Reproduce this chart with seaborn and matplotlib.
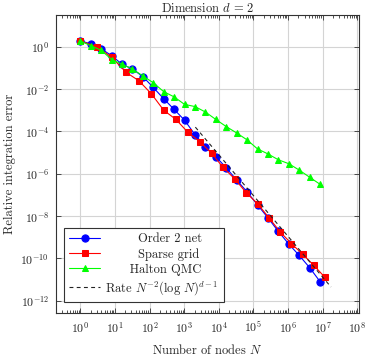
import numpy as np
import pandas as pd
import matplotlib
matplotlib.use("Agg")
import matplotlib.pyplot as plt
import matplotlib.ticker as mticker
import seaborn as sns

# data
net_nodes = [1, 2, 4, 8, 16, 32, 64, 128, 256, 512, 1024, 2048, 4096, 8192,
             16384, 32768, 65536, 131072, 262144, 524288, 1048576, 2097152,
             4194304, 8388608]
net_error = [1.9, 1.38, 0.81, 0.38, 0.15, 8.9e-2, 3.9e-2, 1.2e-2, 3.5e-3,
             1.1e-3, 3.4e-4, 7.1e-5, 1.9e-5, 6.5e-6, 1.9e-6, 5.1e-7, 1.4e-7,
             3.4e-8, 8.3e-9, 1.9e-9, 4.8e-10, 1.4e-10, 3.7e-11, 8.1e-12]

sparse_nodes = [1, 3, 8, 21, 49, 113, 257, 577, 1281, 2817, 6145, 13313,
                28673, 61441, 131073, 278529, 589825, 1245185, 2621441,
                5505025, 11534337]
sparse_error = [1.9, 1.0, 0.32, 6.2e-2, 2.5e-2, 6.0e-3, 1.0e-3, 3.7e-4,
                9.1e-5, 3.3e-5, 9.5e-6, 2.0e-6, 5.8e-7, 1.3e-7, 3.9e-8,
                8.5e-9, 1.8e-9, 5.1e-10, 1.6e-10, 4.8e-11, 1.3e-11]

halton_nodes = net_nodes
halton_error = [1.9, 1.12, 0.69, 0.25, 0.15, 8.9e-2, 4.2e-2, 2.0e-2, 7.6e-3,
                4.3e-3, 1.9e-3, 1.5e-3, 8.3e-4, 3.7e-4, 1.7e-4, 8.5e-5,
                4.0e-5, 1.5e-5, 8.7e-6, 4.6e-6, 3.0e-6, 1.5e-6, 6.9e-7, 3.2e-7]

rate_nodes = [2100, 1.74e7]
rate_error = [1.6e-4, 4.5e-12]

x_ticks = [1e0, 1e1, 1e2, 1e3, 1e4, 1e5, 1e6, 1e7, 1e8]
y_ticks = [1e-12, 1e-10, 1e-8, 1e-6, 1e-4, 1e-2, 1e0]

sns.set_style("ticks")
plt.rcParams["font.family"] = "serif"
plt.rcParams["font.serif"] = ["cmr10", "DejaVu Serif"]
plt.rcParams["mathtext.fontset"] = "cm"
plt.rcParams["axes.unicode_minus"] = False
plt.rcParams["axes.formatter.use_mathtext"] = True

fig = plt.figure(figsize=(3.74, 3.58), dpi=100)
ax = fig.add_axes([0.150, 0.126, 0.810, 0.832])

sns.lineplot(x=net_nodes, y=net_error, ax=ax, color="#0000ff", marker="o",
             markersize=5.2, markeredgecolor="#0000ff", linewidth=0.8,
             label="        Order 2 net")
sns.lineplot(x=sparse_nodes, y=sparse_error, ax=ax, color="#ff0000",
             marker="s", markersize=4.3, markeredgecolor="#ff0000",
             linewidth=0.8, label="        Sparse grid")
sns.lineplot(x=halton_nodes, y=halton_error, ax=ax, color="#00ff00",
             marker="^", markersize=4.8, markeredgecolor="#00ff00",
             linewidth=0.8, label="      Halton QMC")
sns.lineplot(x=rate_nodes, y=rate_error, ax=ax, color="#222222",
             linewidth=0.8, dashes=(3.5, 3), label=r"Rate $N^{-2}(\log\, N)^{d-1}$")

ax.set_xscale("log")
ax.set_yscale("log")
ax.set_xlim(10 ** -0.7, 10 ** 8.05)
ax.set_ylim(10 ** -12.57, 10 ** 1.5)

ax.set_xticks(x_ticks)
ax.set_xticklabels([r"$10^{%d}$" % int(np.log10(v)) for v in x_ticks])
ax.set_yticks(y_ticks)
ax.set_yticklabels([r"$10^{%d}$" % int(np.log10(v)) for v in y_ticks])
ax.xaxis.set_minor_locator(mticker.LogLocator(base=10, subs=np.arange(2, 10), numticks=20))
ax.xaxis.set_minor_formatter(mticker.NullFormatter())
ax.yaxis.set_minor_locator(mticker.NullLocator())

ax.tick_params(which="both", direction="in", top=True, right=True,
               labelsize=8.5, width=0.6, color="#333333")
ax.tick_params(which="major", length=3.5, pad=5)
ax.tick_params(which="minor", length=2)

ax.grid(True, which="major", color="#d4d4d4", linewidth=0.8)
ax.set_axisbelow(True)
for side in ax.spines.values():
    side.set_linewidth(0.8)
    side.set_color("#333333")

ax.set_title(r"Dimension $d\, =\, 2$", fontsize=9, pad=2)
ax.set_xlabel(r"Number of nodes $N$", fontsize=9, labelpad=6)
ax.set_ylabel("Relative integration error", fontsize=9, labelpad=3)

leg = ax.legend(loc="lower left", bbox_to_anchor=(0.026, 0.037), fontsize=9,
                frameon=True, fancybox=False, edgecolor="#333333",
                framealpha=1, handlelength=2.5, borderpad=0.42,
                borderaxespad=0, labelspacing=0.24, handletextpad=0.4)
leg.get_frame().set_linewidth(0.8)

fig.savefig("out.png", dpi=100)
